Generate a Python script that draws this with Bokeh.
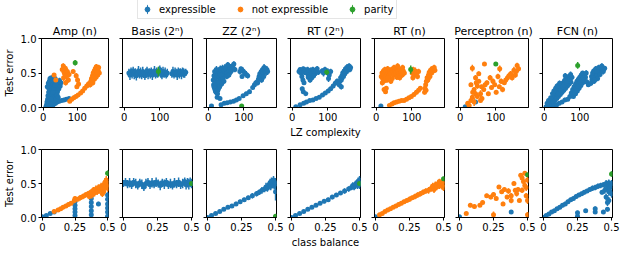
import math
from bokeh.plotting import figure
from bokeh.layouts import column, row
from bokeh.models import ColumnDataSource, FixedTicker, Legend, LegendItem, Range1d
from bokeh.embed import file_html
from bokeh.resources import INLINE

# ---------------- data: (x, test error, error-bar half width) ----------------
TITLES = ["Amp (n)", "Basis (2ⁿ)", "ZZ (2ⁿ)", "RT (2ⁿ)", "RT (n)", "Perceptron (n)", "FCN (n)"]
SERIES_NAMES = ["expressible", "not expressible", "parity"]
LZ_TICKS = [0, 100]
CB_TICKS = [0, 0.25, 0.5]
CB_TICK_LABELS = ["0", "0.25", "0.5"]
Y_TICKS = [0, 0.5, 1.0]
Y_TICK_LABELS = ["0.0", "0.5", "1.0"]

# --- row 1: LZ complexity ---
AMP_LZ_E = [(8,0.01,0.01),(10,0.04,0.02),(11,0.08,0.03),(13,0.12,0.03),(14,0.17,0.04),(16,0.22,0.04),(17,0.27,0.04),(19,0.31,0.05),(21,0.36,0.04),(23,0.40,0.04),(25,0.43,0.03),
            (14,0.02,0.02),(17,0.05,0.03),(19,0.10,0.04),(21,0.15,0.04),(23,0.20,0.05),(25,0.25,0.05),(27,0.30,0.05),(29,0.34,0.04),(32,0.37,0.04),
            (21,0.02,0.02),(24,0.06,0.03),(27,0.12,0.04),(30,0.18,0.04),(33,0.23,0.05),(36,0.27,0.04),(39,0.30,0.04),(42,0.33,0.05),(45,0.36,0.04),(48,0.39,0.04),
            (28,0.03,0.02),(32,0.05,0.02),(36,0.06,0.02),(41,0.08,0.02),(47,0.09,0.02),(54,0.10,0.02),(61,0.11,0.02),(68,0.12,0.02),(76,0.13,0.02),
            (34,0.14,0.03),(38,0.19,0.04),(42,0.23,0.04),(46,0.27,0.04),(50,0.31,0.04),(26,0.08,0.03),(30,0.10,0.03),
            (12,0.30,0.04),(15,0.35,0.04),(18,0.38,0.04),(20,0.20,0.04),(24,0.12,0.03),(28,0.22,0.04),(31,0.28,0.04),(35,0.32,0.04),(38,0.12,0.03),
            (41,0.18,0.03),(44,0.15,0.03),(20,0.42,0.04),(27,0.40,0.04),(35,0.42,0.04),(52,0.36,0.04)]
AMP_LZ_N = [(32,0.47,0.03),(37,0.40,0.03),(56,0.55,0.05),(59,0.60,0.04),(62,0.50,0.05),(65,0.57,0.04),(68,0.46,0.05),(71,0.52,0.05),(74,0.40,0.04),(60,0.43,0.05),(66,0.36,0.04),(76,0.48,0.04),
            (88,0.52,0.03),(97,0.46,0.04),(101,0.40,0.04),(104,0.34,0.04),(99,0.30,0.03),
            (78,0.09,0.02),(84,0.12,0.02),(90,0.14,0.03),(96,0.16,0.03),(103,0.18,0.03),(110,0.21,0.03),(116,0.24,0.03),(122,0.28,0.03),(128,0.31,0.03),(133,0.34,0.04),
            (138,0.33,0.04),(140,0.38,0.05),(142,0.42,0.05),(145,0.46,0.05),(147,0.50,0.05),(150,0.53,0.05),(153,0.56,0.05),(156,0.59,0.04),(159,0.57,0.05),(162,0.53,0.05),
            (165,0.50,0.05),(160,0.47,0.05),(155,0.44,0.05),(150,0.41,0.04),(146,0.36,0.04),(152,0.48,0.05),(158,0.51,0.05),(163,0.58,0.04),(148,0.44,0.05),(144,0.40,0.04)]
AMP_LZ_P = [(94,0.65,0.04)]

BASIS_LZ_E = [(13,0.50,0.06),(16,0.47,0.07),(19,0.52,0.06),(22,0.49,0.07),(25,0.53,0.06),(28,0.48,0.07),(31,0.51,0.06),(34,0.46,0.07),(37,0.50,0.06),(40,0.53,0.07),
              (43,0.48,0.06),(46,0.51,0.07),(49,0.47,0.06),(52,0.52,0.07),(55,0.49,0.06),(58,0.46,0.06),(61,0.50,0.07),(64,0.53,0.06),(67,0.48,0.07),(70,0.51,0.06),
              (73,0.49,0.07),(76,0.52,0.06),(79,0.47,0.07),(82,0.50,0.06),(85,0.53,0.07),(88,0.48,0.06),(91,0.51,0.07),(94,0.49,0.06),(97,0.52,0.07),(100,0.55,0.06),
              (103,0.50,0.07),(106,0.47,0.06),(109,0.52,0.07),(112,0.49,0.06),(115,0.51,0.07),(118,0.48,0.06),(121,0.50,0.06),
              (134,0.49,0.06),(137,0.52,0.07),(140,0.48,0.06),(143,0.51,0.07),(146,0.50,0.06),(149,0.47,0.07),(152,0.52,0.06),(155,0.49,0.07),(158,0.51,0.06),
              (161,0.48,0.07),(164,0.52,0.06),(167,0.50,0.07),(170,0.49,0.06),(173,0.51,0.05)]
BASIS_LZ_N = []
BASIS_LZ_P = [(96,0.52,0.07)]

ZZ_LZ_E = [(14,0.40,0.05),(15,0.33,0.05),(16,0.46,0.05),(18,0.27,0.04),(19,0.38,0.05),(20,0.50,0.05),(22,0.22,0.04),(22,0.43,0.05),(24,0.32,0.05),(25,0.52,0.05),
           (26,0.47,0.05),(28,0.37,0.05),(29,0.28,0.04),(30,0.53,0.05),(31,0.44,0.05),(33,0.49,0.06),(34,0.56,0.05),(35,0.40,0.05),(37,0.52,0.05),(39,0.46,0.05),
           (40,0.57,0.05),(42,0.50,0.05),(44,0.54,0.05),(46,0.47,0.05),(48,0.52,0.05),(50,0.55,0.05),(53,0.50,0.04),(56,0.56,0.05),(59,0.52,0.05),(62,0.58,0.05),
           (65,0.55,0.05),(68,0.60,0.04),(70,0.57,0.05),(25,0.15,0.03),
           (16,0.30,0.04),(18,0.52,0.05),(21,0.35,0.05),(23,0.55,0.05),(27,0.25,0.04),(30,0.36,0.05),(32,0.30,0.04),(36,0.47,0.05),(38,0.34,0.04),(41,0.42,0.05),
           (44,0.38,0.04),(47,0.58,0.05),(52,0.45,0.04),(55,0.62,0.04),(58,0.47,0.04),(64,0.52,0.05),(72,0.63,0.04),(75,0.55,0.04),(20,0.24,0.03),(26,0.20,0.03),
           (89,0.52,0.04),(92,0.56,0.03),(98,0.53,0.05),(103,0.50,0.04),(107,0.48,0.05),(111,0.46,0.04),(95,0.45,0.03),
           (9,0.02,0.01),(33,0.13,0.02),(36,0.04,0.01),(45,0.06,0.02),(53,0.07,0.02),(62,0.08,0.02),(71,0.09,0.02),(79,0.11,0.02),(87,0.13,0.02),(98,0.17,0.02),
           (107,0.20,0.03),(116,0.23,0.03),(125,0.29,0.03),(130,0.33,0.03),(134,0.36,0.04),
           (139,0.36,0.04),(141,0.41,0.05),(143,0.45,0.05),(145,0.49,0.05),(147,0.44,0.05),(149,0.52,0.05),(151,0.47,0.05),(153,0.55,0.05),(155,0.50,0.05),(157,0.58,0.05),
           (159,0.53,0.05),(161,0.56,0.05),(163,0.51,0.05),(165,0.55,0.05),(167,0.52,0.05),(150,0.40,0.04),(156,0.45,0.05)]
ZZ_LZ_N = []
ZZ_LZ_P = [(94,0.02,0.01)]

RT2N_LZ_E = [(19,0.52,0.04),(22,0.55,0.03),(25,0.50,0.04),(28,0.53,0.04),(31,0.56,0.03),(34,0.51,0.04),(37,0.54,0.04),(40,0.50,0.05),(43,0.55,0.04),(46,0.52,0.05),
             (49,0.48,0.05),(52,0.54,0.04),(55,0.50,0.05),(58,0.55,0.04),(61,0.52,0.05),(64,0.49,0.05),(67,0.53,0.04),(70,0.56,0.04),(73,0.51,0.04),
             (27,0.45,0.04),(30,0.40,0.03),(33,0.36,0.03),(45,0.44,0.04),(50,0.40,0.04),(55,0.43,0.04),(28,0.27,0.03),(31,0.23,0.03),(38,0.20,0.02),(60,0.46,0.04),
             (84,0.53,0.04),(88,0.50,0.05),(92,0.55,0.04),(100,0.52,0.05),(104,0.47,0.05),(108,0.52,0.04),(102,0.42,0.05),
             (10,0.01,0.01),(22,0.04,0.01),(32,0.06,0.02),(40,0.08,0.02),(49,0.10,0.02),(58,0.11,0.02),(67,0.13,0.02),(76,0.15,0.02),(85,0.18,0.02),(93,0.21,0.02),
             (101,0.24,0.03),(108,0.27,0.03),(115,0.31,0.03),(121,0.35,0.03),(126,0.38,0.04),
             (132,0.33,0.04),(134,0.38,0.04),(136,0.43,0.05),(138,0.40,0.04),(140,0.46,0.05),(142,0.50,0.05),(144,0.45,0.05),(146,0.53,0.05),(148,0.49,0.05),(150,0.56,0.05),
             (152,0.52,0.05),(154,0.58,0.05),(156,0.54,0.05),(158,0.57,0.05),(160,0.60,0.04),(162,0.55,0.04),(164,0.58,0.04),(138,0.30,0.04)]
RT2N_LZ_N = []
RT2N_LZ_P = [(97,0.51,0.04)]

RTN_LZ_E = [(13,0.02,0.01)]
RTN_LZ_N = [(14,0.45,0.04),(16,0.50,0.04),(18,0.42,0.05),(20,0.53,0.04),(22,0.47,0.05),(24,0.55,0.04),(26,0.44,0.05),(28,0.52,0.05),(30,0.48,0.05),(32,0.56,0.04),
            (34,0.50,0.05),(36,0.46,0.04),(38,0.53,0.05),(40,0.49,0.05),(43,0.55,0.04),(46,0.51,0.05),(49,0.47,0.04),(52,0.54,0.05),(55,0.50,0.05),(58,0.56,0.04),
            (61,0.52,0.05),(64,0.49,0.05),(67,0.55,0.04),(70,0.51,0.05),(73,0.47,0.04),(76,0.53,0.04),(20,0.38,0.04),(30,0.40,0.04),(45,0.42,0.04),(58,0.44,0.04),
            (17,0.36,0.04),(25,0.40,0.04),(33,0.43,0.04),(41,0.38,0.04),(50,0.58,0.04),(60,0.60,0.04),(66,0.43,0.04),(74,0.58,0.04),(79,0.50,0.04),
            (22,0.26,0.03),(26,0.23,0.03),(28,0.28,0.03),
            (101,0.50,0.05),(104,0.55,0.04),(107,0.47,0.05),(110,0.53,0.05),(113,0.50,0.05),(116,0.45,0.04),(119,0.52,0.04),(103,0.43,0.04),
            (37,0.03,0.01),(44,0.05,0.02),(50,0.07,0.02),(57,0.08,0.02),(64,0.09,0.02),(71,0.10,0.02),(78,0.10,0.02),(85,0.12,0.02),(92,0.14,0.02),(99,0.16,0.03),
            (106,0.19,0.03),(113,0.22,0.03),(119,0.25,0.03),(124,0.28,0.03),
            (136,0.22,0.03),(137,0.28,0.04),(139,0.33,0.04),(141,0.38,0.04),(143,0.43,0.05),(145,0.40,0.04),(147,0.47,0.05),(149,0.51,0.05),(151,0.45,0.05),(153,0.54,0.05),
            (155,0.50,0.05),(157,0.56,0.04),(159,0.52,0.05),(161,0.55,0.04),(163,0.58,0.04),(165,0.54,0.04),(140,0.25,0.03)]
RTN_LZ_P = [(97,0.55,0.06)]

PERC_LZ_E = [(14,0.01,0.01),(43,0.08,0.02)]
PERC_LZ_N = [(34,0.57,0.05),(68,0.63,0.02),(52,0.49,0.03),(52,0.38,0.03),(30,0.33,0.03),(39,0.26,0.03),(43,0.20,0.04),(34,0.15,0.03),(30,0.10,0.03),(21,0.06,0.02),
             (66,0.26,0.03),(75,0.36,0.03),(84,0.43,0.04),(88,0.29,0.03),(79,0.20,0.03),(61,0.13,0.03),(57,0.20,0.05),(106,0.45,0.04),(111,0.56,0.05),(115,0.38,0.04),
             (124,0.36,0.03),(119,0.26,0.04),(97,0.33,0.03),(101,0.22,0.03),(133,0.43,0.04),(142,0.49,0.04),(151,0.54,0.05),(160,0.61,0.04),(155,0.47,0.04),(164,0.56,0.04),
             (146,0.43,0.04),(48,0.31,0.04),(43,0.43,0.04),(70,0.33,0.03),(57,0.10,0.03),(39,0.08,0.06),(25,0.03,0.02),(48,0.16,0.04),(35,0.22,0.03),(60,0.30,0.03),
             (45,0.36,0.03),(92,0.38,0.04),(110,0.30,0.03),(128,0.40,0.04),(158,0.52,0.04),(137,0.46,0.04)]
PERC_LZ_P = [(100,0.63,0.02)]

FCN_LZ_E = [(5,0.01,0.01),(9,0.03,0.02),(13,0.06,0.02),(17,0.09,0.03),(21,0.12,0.03),(25,0.15,0.03),(29,0.18,0.04),(33,0.21,0.04),(37,0.24,0.04),(41,0.27,0.04),
            (45,0.30,0.04),(49,0.33,0.04),(53,0.36,0.04),(57,0.39,0.04),(61,0.41,0.04),(65,0.43,0.04),(69,0.45,0.03),
            (15,0.02,0.01),(20,0.05,0.02),(25,0.08,0.03),(30,0.10,0.03),(35,0.13,0.03),(40,0.16,0.04),(45,0.19,0.04),(50,0.22,0.04),(55,0.25,0.04),(60,0.28,0.04),
            (65,0.31,0.04),(70,0.34,0.04),(75,0.37,0.04),
            (28,0.02,0.01),(35,0.04,0.02),(42,0.06,0.02),(50,0.08,0.03),(58,0.11,0.03),
            (66,0.12,0.03),(72,0.16,0.03),(76,0.21,0.04),(80,0.26,0.04),(84,0.30,0.04),(88,0.34,0.04),(92,0.38,0.04),(96,0.41,0.04),(100,0.44,0.04),(104,0.47,0.04),(108,0.50,0.03),
            (82,0.16,0.03),(88,0.20,0.03),(93,0.24,0.03),(98,0.28,0.04),(103,0.32,0.04),(108,0.36,0.04),(112,0.40,0.04),(116,0.44,0.04),(120,0.37,0.04),(124,0.33,0.03),
            (8,0.06,0.02),(12,0.10,0.03),(18,0.14,0.03),(23,0.20,0.03),(27,0.24,0.04),(32,0.28,0.04),(36,0.31,0.04),(39,0.20,0.04),(43,0.35,0.04),(47,0.25,0.04),
            (52,0.30,0.04),(56,0.33,0.04),(59,0.46,0.04),(63,0.36,0.04),(67,0.38,0.04),(72,0.41,0.04),(74,0.48,0.04),(78,0.44,0.04),(86,0.24,0.03),(90,0.28,0.04),
            (94,0.31,0.04),(97,0.34,0.04),(101,0.37,0.04),(106,0.40,0.04),(110,0.43,0.04),(114,0.47,0.04),(118,0.50,0.04),
            (131,0.35,0.04),(134,0.40,0.04),(137,0.44,0.04),(140,0.48,0.04),(143,0.45,0.04),(146,0.51,0.04),(149,0.47,0.04),(152,0.54,0.04),(155,0.50,0.04),(158,0.56,0.04),
            (161,0.53,0.04),(164,0.58,0.04),(167,0.55,0.04),(170,0.57,0.03),(140,0.38,0.04),(150,0.42,0.04),
            (133,0.45,0.04),(136,0.50,0.04),(139,0.53,0.04),(142,0.40,0.04),(145,0.56,0.04),(148,0.52,0.04),(153,0.58,0.04),(157,0.48,0.04),(162,0.60,0.04),(166,0.52,0.04)]
FCN_LZ_N = []
FCN_LZ_P = [(94,0.61,0.05)]

# --- row 2: class balance ---
AMP_CB_E = [(0.0,0.01,0.01),(0.03,0.03,0.01),(0.06,0.06,0.02),(0.09,0.08,0.02),
            (0.25,0.03,0.02),(0.25,0.08,0.03),(0.25,0.13,0.03),(0.25,0.18,0.03),(0.25,0.23,0.03),
            (0.375,0.04,0.02),(0.375,0.10,0.03),(0.375,0.16,0.03),(0.375,0.22,0.04),(0.375,0.28,0.04),
            (0.43,0.20,0.03),
            (0.5,0.02,0.02),(0.5,0.08,0.03),(0.5,0.14,0.03),(0.5,0.20,0.04),(0.5,0.27,0.04),(0.5,0.33,0.04)]
AMP_CB_N = [(0.09,0.09,0.02),(0.12,0.11,0.02),(0.14,0.13,0.02),(0.16,0.15,0.03),(0.18,0.17,0.03),(0.20,0.19,0.03),(0.22,0.21,0.03),(0.245,0.25,0.04),(0.25,0.28,0.03),
            (0.27,0.27,0.03),(0.29,0.29,0.04),(0.31,0.31,0.04),(0.33,0.33,0.04),(0.35,0.35,0.04),(0.37,0.37,0.04),(0.38,0.33,0.05),(0.39,0.40,0.05),(0.40,0.36,0.05),
            (0.41,0.42,0.05),(0.42,0.38,0.05),(0.43,0.44,0.05),(0.44,0.40,0.05),(0.45,0.46,0.05),(0.46,0.42,0.06),(0.47,0.48,0.06),(0.47,0.38,0.05),(0.48,0.52,0.06),
            (0.48,0.44,0.06),(0.49,0.55,0.06),(0.49,0.47,0.06),(0.50,0.50,0.06),(0.50,0.43,0.05),(0.46,0.35,0.05),(0.36,0.31,0.04)]
AMP_CB_P = [(0.5,0.65,0.04)]

BASIS_CB_E = [(0.0,0.50,0.05),(0.015,0.52,0.06),(0.03,0.49,0.06),(0.045,0.51,0.07),(0.06,0.48,0.06),(0.075,0.52,0.06),(0.09,0.50,0.07),(0.105,0.47,0.06),
              (0.12,0.51,0.06),(0.135,0.49,0.07),(0.15,0.45,0.06),(0.165,0.50,0.07),(0.18,0.52,0.06),(0.195,0.48,0.06),(0.21,0.51,0.07),(0.225,0.49,0.06),
              (0.24,0.52,0.07),(0.255,0.50,0.06),(0.27,0.47,0.07),(0.285,0.51,0.06),(0.30,0.49,0.07),(0.315,0.52,0.06),(0.33,0.48,0.06),(0.345,0.50,0.07),
              (0.36,0.47,0.06),(0.375,0.51,0.07),(0.39,0.49,0.06),(0.405,0.52,0.07),(0.42,0.48,0.06),(0.435,0.50,0.07),(0.45,0.53,0.06),(0.46,0.48,0.07),
              (0.47,0.51,0.07),(0.48,0.49,0.08),(0.49,0.52,0.07),(0.50,0.50,0.07)]
BASIS_CB_N = []
BASIS_CB_P = [(0.5,0.50,0.03)]

ZZ_CB_E = [(0.0,0.0,0.01),(0.03,0.03,0.01),(0.06,0.06,0.01),(0.09,0.09,0.02),(0.12,0.12,0.02),(0.15,0.15,0.02),(0.18,0.17,0.02),(0.21,0.20,0.03),(0.24,0.23,0.03),
           (0.27,0.26,0.03),(0.30,0.29,0.03),(0.33,0.32,0.04),(0.36,0.35,0.04),(0.38,0.37,0.04),(0.40,0.40,0.05),(0.42,0.42,0.05),(0.43,0.45,0.06),(0.44,0.43,0.05),
           (0.45,0.48,0.06),(0.46,0.51,0.06),(0.465,0.46,0.06),(0.47,0.53,0.06),(0.48,0.49,0.06),(0.485,0.55,0.06),(0.49,0.47,0.06),(0.495,0.52,0.06),
           (0.5,0.38,0.13),(0.5,0.50,0.08)]
ZZ_CB_N = []
ZZ_CB_P = [(0.5,0.02,0.01)]

RT2N_CB_E = [(0.0,0.0,0.01),(0.03,0.03,0.01),(0.06,0.06,0.01),(0.09,0.09,0.02),(0.12,0.12,0.02),(0.15,0.15,0.02),(0.18,0.18,0.02),(0.21,0.21,0.02),(0.24,0.24,0.03),
             (0.27,0.26,0.03),(0.30,0.30,0.03),(0.33,0.33,0.03),(0.36,0.36,0.03),(0.39,0.39,0.04),(0.42,0.42,0.04),(0.44,0.44,0.04),(0.45,0.47,0.05),(0.46,0.45,0.05),
             (0.47,0.49,0.05),(0.48,0.51,0.05),(0.485,0.47,0.05),(0.49,0.53,0.06),(0.495,0.50,0.06),(0.5,0.55,0.06),(0.5,0.48,0.06)]
RT2N_CB_N = []
RT2N_CB_P = [(0.5,0.50,0.03)]

RTN_CB_E = [(0.0,0.01,0.01)]
RTN_CB_N = [(0.03,0.04,0.01),(0.05,0.06,0.02),(0.07,0.09,0.02),(0.09,0.11,0.02),(0.11,0.13,0.02),(0.13,0.15,0.02),(0.15,0.17,0.03),(0.17,0.19,0.03),(0.19,0.21,0.03),
            (0.21,0.23,0.03),(0.23,0.25,0.03),(0.25,0.27,0.04),(0.27,0.29,0.03),(0.29,0.31,0.04),(0.31,0.33,0.04),(0.33,0.35,0.04),(0.35,0.37,0.04),(0.37,0.39,0.04),
            (0.39,0.40,0.05),(0.41,0.43,0.05),(0.42,0.46,0.05),(0.43,0.41,0.05),(0.44,0.48,0.05),(0.45,0.45,0.05),(0.46,0.50,0.05),(0.47,0.47,0.05),(0.47,0.53,0.04),
            (0.48,0.50,0.05),(0.49,0.52,0.05),(0.49,0.46,0.05),(0.5,0.50,0.06),(0.5,0.44,0.05)]
RTN_CB_P = [(0.5,0.57,0.03)]

PERC_CB_E = [(0.0,0.01,0.01),(0.38,0.08,0.02)]
PERC_CB_N = [(0.05,0.06,0.02),(0.08,0.18,0.03),(0.11,0.16,0.03),(0.15,0.18,0.02),(0.17,0.22,0.03),(0.2,0.32,0.03),(0.23,0.30,0.03),(0.25,0.34,0.03),(0.25,0.04,0.05),
             (0.27,0.28,0.03),(0.29,0.45,0.02),(0.31,0.38,0.03),(0.33,0.41,0.03),(0.32,0.20,0.03),(0.35,0.30,0.03),(0.36,0.39,0.04),(0.38,0.32,0.04),(0.38,0.25,0.04),
             (0.40,0.50,0.03),(0.41,0.40,0.03),(0.42,0.35,0.04),(0.43,0.41,0.03),(0.44,0.25,0.03),(0.45,0.62,0.03),(0.46,0.40,0.04),(0.47,0.53,0.04),(0.48,0.65,0.03),
             (0.48,0.47,0.04),(0.49,0.44,0.05),(0.49,0.32,0.04),(0.5,0.25,0.05),(0.5,0.04,0.04),(0.5,0.55,0.05),(0.46,0.58,0.03)]
PERC_CB_P = [(0.5,0.63,0.02)]

FCN_CB_E = [(0.0,0.0,0.01),(0.02,0.03,0.01),(0.04,0.05,0.02),(0.06,0.08,0.02),(0.08,0.10,0.02),(0.10,0.13,0.02),(0.12,0.15,0.03),(0.14,0.18,0.03),(0.16,0.20,0.03),
            (0.18,0.23,0.03),(0.20,0.26,0.03),(0.22,0.28,0.03),(0.24,0.31,0.03),(0.26,0.33,0.03),(0.28,0.35,0.03),(0.30,0.37,0.03),(0.32,0.39,0.03),(0.34,0.41,0.03),
            (0.36,0.43,0.04),(0.38,0.44,0.04),(0.40,0.46,0.04),(0.42,0.47,0.04),(0.44,0.48,0.04),(0.46,0.50,0.05),(0.48,0.51,0.05),(0.5,0.50,0.05),
            (0.45,0.40,0.05),(0.47,0.45,0.05),(0.48,0.38,0.06),(0.49,0.44,0.06),(0.5,0.35,0.06),(0.46,0.30,0.05),(0.48,0.25,0.05),
            (0.25,0.02,0.02),(0.25,0.07,0.03),(0.31,0.10,0.02),(0.38,0.08,0.03),(0.38,0.13,0.03),(0.44,0.08,0.02),(0.47,0.12,0.03),(0.47,0.22,0.05),(0.43,0.37,0.03)]
FCN_CB_N = []
FCN_CB_P = [(0.5,0.64,0.04)]

ROW_LZ = [(AMP_LZ_E, AMP_LZ_N, AMP_LZ_P), (BASIS_LZ_E, BASIS_LZ_N, BASIS_LZ_P),
          (ZZ_LZ_E, ZZ_LZ_N, ZZ_LZ_P), (RT2N_LZ_E, RT2N_LZ_N, RT2N_LZ_P),
          (RTN_LZ_E, RTN_LZ_N, RTN_LZ_P), (PERC_LZ_E, PERC_LZ_N, PERC_LZ_P),
          (FCN_LZ_E, FCN_LZ_N, FCN_LZ_P)]
ROW_CB = [(AMP_CB_E, AMP_CB_N, AMP_CB_P), (BASIS_CB_E, BASIS_CB_N, BASIS_CB_P),
          (ZZ_CB_E, ZZ_CB_N, ZZ_CB_P), (RT2N_CB_E, RT2N_CB_N, RT2N_CB_P),
          (RTN_CB_E, RTN_CB_N, RTN_CB_P), (PERC_CB_E, PERC_CB_N, PERC_CB_P),
          (FCN_CB_E, FCN_CB_N, FCN_CB_P)]

# ---------------- styling / layout ----------------
BLUE, ORANGE, GREEN = "#1f77b4", "#ff7f0e", "#2ca02c"
COLORS = [BLUE, ORANGE, GREEN]
FONT = "DejaVu Sans"
LZ_RANGE = (-5, 192)
CB_RANGE = (-0.007, 0.507)
FRAME_W, FRAME_H = 70, 69
FIRST_LEFT, OTHER_LEFT, RIGHT = 38, 5, 9


def style_axis(ax):
    ax.axis_line_color = "black"
    ax.major_tick_line_color = "black"
    ax.major_tick_in = 0
    ax.major_tick_out = 3
    ax.minor_tick_line_color = None
    ax.major_label_text_font = FONT
    ax.major_label_text_font_size = "10px"
    ax.major_label_text_color = "black"
    ax.major_label_standoff = 2
    ax.axis_label_text_font = FONT
    ax.axis_label_text_font_size = "10px"
    ax.axis_label_text_font_style = "normal"
    ax.axis_label_text_color = "black"
    ax.axis_label_standoff = 3


def add_series(p, pts, color):
    if not pts:
        return
    xs = [t[0] for t in pts]
    ys = [t[1] for t in pts]
    es = [t[2] for t in pts]
    src = ColumnDataSource(dict(x=xs, y=ys,
                                lo=[y - e for y, e in zip(ys, es)],
                                hi=[y + e for y, e in zip(ys, es)]))
    p.segment(x0="x", y0="lo", x1="x", y1="hi", source=src, line_color=color, line_width=1.5)
    p.scatter(x="x", y="y", source=src, size=5, fill_color=color, line_color=color, line_width=0)


def make_panel(r, c, series):
    first = c == 0
    left = FIRST_LEFT if first else OTHER_LEFT
    top, bottom = (18, 33) if r == 0 else (9, 32)
    xr = LZ_RANGE if r == 0 else CB_RANGE
    p = figure(width=left + FRAME_W + RIGHT, height=top + FRAME_H + bottom,
               output_backend="svg", toolbar_location=None,
               x_range=Range1d(*xr), y_range=Range1d(0, 1),
               min_border_left=left, min_border_right=RIGHT,
               min_border_top=top, min_border_bottom=bottom,
               title=TITLES[c] if r == 0 else None)
    p.background_fill_color = "white"
    p.border_fill_color = "white"
    p.outline_line_color = "black"
    p.outline_line_width = 1
    p.grid.visible = False
    if r == 0:
        p.title.align = "center"
        p.title.text_font = FONT
        p.title.text_font_size = "11px"
        p.title.text_font_style = "normal"
        p.title.text_color = "black"
        p.title.standoff = 2
    style_axis(p.xaxis[0])
    style_axis(p.yaxis[0])
    if r == 0:
        p.xaxis.ticker = FixedTicker(ticks=LZ_TICKS)
    else:
        p.xaxis.ticker = FixedTicker(ticks=CB_TICKS)
        p.xaxis.major_label_overrides = {t: s for t, s in zip(CB_TICKS, CB_TICK_LABELS)}
    p.yaxis.ticker = FixedTicker(ticks=Y_TICKS)
    if first:
        p.yaxis.major_label_overrides = {t: s for t, s in zip(Y_TICKS, Y_TICK_LABELS)}
        p.yaxis.axis_label = "Test error"
    else:
        p.yaxis.major_label_overrides = {t: "" for t in Y_TICKS}
        p.yaxis.major_label_standoff = 0
    if c == 3:
        p.xaxis.axis_label = "LZ complexity" if r == 0 else "class balance"
    for pts, col in zip(series, COLORS):
        add_series(p, pts, col)
    return p


row1 = row([make_panel(0, c, s) for c, s in enumerate(ROW_LZ)], spacing=0)
row2 = row([make_panel(1, c, s) for c, s in enumerate(ROW_CB)], spacing=0)
TOTAL_W = FIRST_LEFT + FRAME_W + RIGHT + 6 * (OTHER_LEFT + FRAME_W + RIGHT)

# legend strip (legend glyphs use a NaN point so nothing is drawn in the plot area)
lp = figure(width=TOTAL_W, height=20, output_backend="svg", toolbar_location=None,
            x_range=Range1d(0, 1), y_range=Range1d(0, 1),
            x_axis_location=None, y_axis_location=None, min_border=0)
lp.grid.visible = False
lp.outline_line_color = None
NAN = [float("nan")]
items = []
for name, col in zip(SERIES_NAMES, COLORS):
    rends = []
    if name != "not expressible":
        rends.append(lp.ellipse(x=NAN, y=NAN, width=1.6, height=11,
                                width_units="screen", height_units="screen",
                                fill_color=col, line_color=None))
    rends.append(lp.scatter(x=NAN, y=NAN, marker="circle", size=4, fill_color=col, line_color=col))
    items.append(LegendItem(label=name, renderers=rends))
leg = Legend(items=items, orientation="horizontal", location=(137, 1),
             glyph_width=12, glyph_height=12, label_height=12, label_standoff=6,
             spacing=18, padding=3, margin=0,
             label_text_font=FONT, label_text_font_size="10px", label_text_color="black",
             border_line_color="#cccccc", border_line_width=1)
lp.add_layout(leg)

layout = column([lp, row1, row2], spacing=0)
open("out.html", "w").write(file_html(layout, INLINE))
